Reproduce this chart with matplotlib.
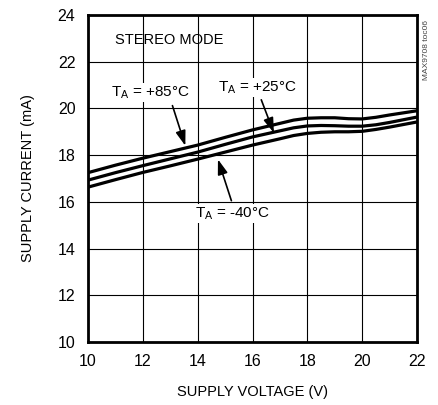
import matplotlib
matplotlib.use('Agg')
import matplotlib.pyplot as plt

plt.rcParams['font.family'] = ['Liberation Sans Narrow', 'Liberation Sans', 'DejaVu Sans']
plt.rcParams['mathtext.fontset'] = 'custom'
plt.rcParams['mathtext.rm'] = 'Liberation Sans'

# 数据
voltage = [10, 11, 12, 13, 14, 15, 16, 17, 17.5, 18, 18.5, 19, 19.5, 20, 20.5, 21, 22]
i_85 = [17.25, 17.57, 17.87, 18.15, 18.43, 18.76, 19.08, 19.36, 19.5, 19.58, 19.6, 19.6, 19.56, 19.55, 19.62, 19.72, 19.9]
i_25 = [16.93, 17.25, 17.55, 17.84, 18.13, 18.46, 18.78, 19.04, 19.17, 19.25, 19.27, 19.26, 19.24, 19.24, 19.3, 19.4, 19.63]
i_m40 = [16.63, 16.95, 17.26, 17.54, 17.83, 18.13, 18.43, 18.7, 18.84, 18.93, 18.98, 19.0, 19.0, 19.02, 19.1, 19.2, 19.42]

x_ticks = [10, 12, 14, 16, 18, 20, 22]
y_ticks = [10, 12, 14, 16, 18, 20, 22, 24]

fig = plt.figure(figsize=(4.39, 4.05), dpi=100)
ax = fig.add_axes([88 / 439, 63 / 405, 329 / 439, 327 / 405])

for cur in [i_85, i_25, i_m40]:
    ax.plot(voltage, cur, color='black', lw=2.3, zorder=3, solid_capstyle='butt')

ax.set_xlim(10, 22)
ax.set_ylim(10, 24)
ax.set_xticks(x_ticks)
ax.set_yticks(y_ticks)
ax.tick_params(length=0, labelsize=11.5, pad=9)
ax.grid(True, color='black', lw=0.8)
for s in ax.spines.values():
    s.set_linewidth(2)

ax.set_xlabel('SUPPLY VOLTAGE (V)', fontsize=10.5, labelpad=11)
ax.set_ylabel('SUPPLY CURRENT (mA)', fontsize=10.5, labelpad=16)

ax.text(10.97, 22.95, 'STEREO MODE', fontsize=10.5, va='center', ha='left', zorder=4)

bbox = dict(facecolor='white', edgecolor='none', pad=1)
ax.text(10.85, 20.68, r'T$_\mathregular{A}$ = +85°C', fontsize=11, va='center', ha='left',
        bbox=bbox, zorder=4)
ax.text(14.74, 20.9, r'T$_\mathregular{A}$ = +25°C', fontsize=11, va='center', ha='left',
        bbox=bbox, zorder=4)
ax.text(13.89, 15.51, r'T$_\mathregular{A}$ = -40°C', fontsize=11, va='center', ha='left',
        bbox=bbox, zorder=4)

arrow = dict(arrowstyle='-|>,head_length=0.9,head_width=0.3', color='black', lw=1.2,
             shrinkA=0, shrinkB=0)
ax.annotate('', xy=(13.55, 18.4), xytext=(13.08, 20.12), arrowprops=arrow, zorder=5)
ax.annotate('', xy=(16.78, 18.95), xytext=(16.32, 20.37), arrowprops=arrow, zorder=5)
ax.annotate('', xy=(14.74, 17.82), xytext=(15.23, 16.05), arrowprops=arrow, zorder=5)

fig.text(427 / 439, 1 - 50 / 405, 'MAX9708 toc06', rotation=90, fontsize=6,
         color='#444444', ha='center', va='center')

fig.savefig('out.png', dpi=100)
